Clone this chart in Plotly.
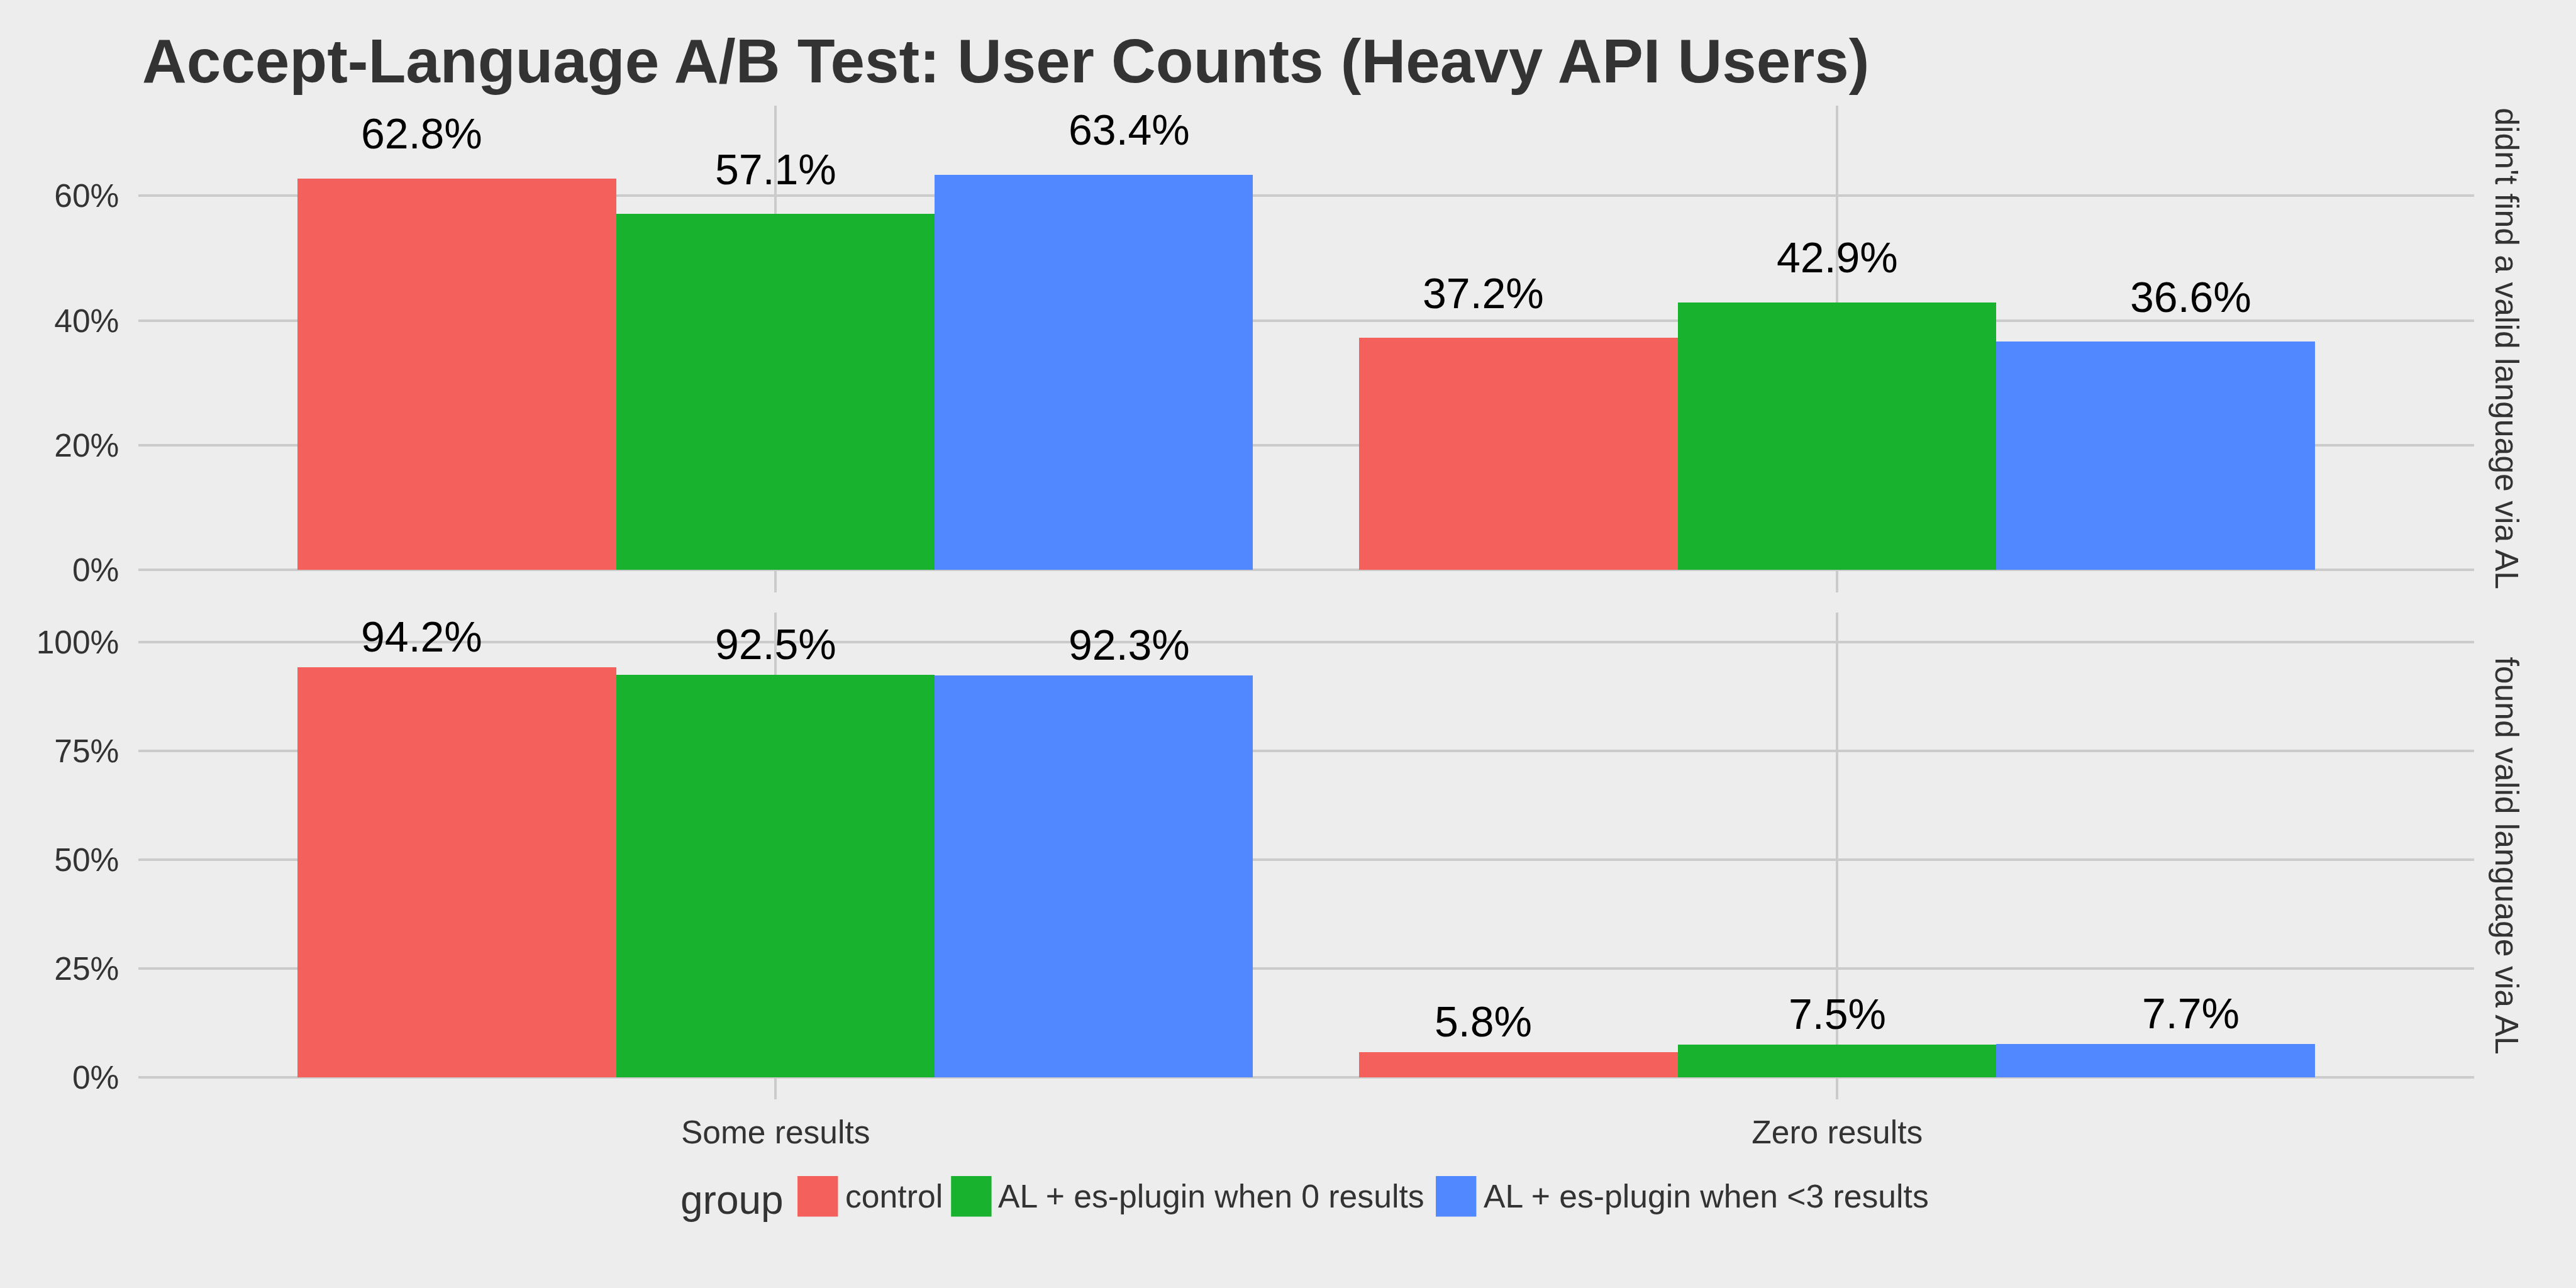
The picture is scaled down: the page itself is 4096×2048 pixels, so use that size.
import plotly.graph_objects as go

# ---------------- data ----------------
categories = ["Some results", "Zero results"]
groups = ["control", "AL + es-plugin when 0 results", "AL + es-plugin when <3 results"]
facets = ["didn't find a valid language via AL", "found valid language via AL"]
group_colors = ["#F4605C", "#19B22F", "#5288FF"]

# percent of users, per category (Some results, Zero results)
didnt_control = [62.8, 37.2]
didnt_al0 = [57.1, 42.9]
didnt_al3 = [63.4, 36.6]
found_control = [94.2, 5.8]
found_al0 = [92.5, 7.5]
found_al3 = [92.3, 7.7]

ticks_top = [0, 20, 40, 60]
ticks_bottom = [0, 25, 50, 75, 100]
label_offset = 7.5  # labels sit 7.5 points above the bar

facet_values = [
    [didnt_control, didnt_al0, didnt_al3],
    [found_control, found_al0, found_al3],
]
facet_ticks = [ticks_top, ticks_bottom]

# ---------------- geometry (pixels in a 4096x2048 canvas) ----------------
W, H = 4096, 2048
S = 0.975
BG = "#EDEDED"
GRID = "#CBCBCB"
TXT = "#333333"
FONT = "Liberation Sans"

px_left, px_right = 226 * S, 4035 * S
panels_px = [(172.3 * S, 965.7 * S), (998.7 * S, 1793 * S)]
xdom = [px_left / W, px_right / W]
ydoms = [[1 - b / H, 1 - t / H] for (t, b) in panels_px]

bar_dodge = 0.9
text_dodge = 1.0
n_groups = len(groups)
bar_w = bar_dodge / n_groups
cat_pos = list(range(1, len(categories) + 1))

fig = go.Figure()
annotations = []

for f, vals in enumerate(facet_values):
    xa = "x" if f == 0 else "x2"
    ya = "y" if f == 0 else "y2"
    for j, g in enumerate(groups):
        rel = j - (n_groups - 1) / 2
        xs = [c + rel * bar_w for c in cat_pos]
        xt = [c + rel * text_dodge / n_groups for c in cat_pos]
        fig.add_trace(go.Bar(
            x=xs, y=vals[j], width=bar_w, marker=dict(color=group_colors[j], line=dict(width=0)),
            name=g, showlegend=False, xaxis=xa, yaxis=ya, hoverinfo="skip",
        ))
        for xv, v in zip(xt, vals[j]):
            annotations.append(dict(
                text=f"{v:.1f}%", xref=xa, yref=ya, x=xv, y=v + label_offset,
                xanchor="center", yanchor="middle", yshift=-3, showarrow=False,
                font=dict(family=FONT, size=68, color="#000000"),
            ))

layout_axes = {}
for f in range(2):
    vals = facet_values[f]
    top = max(max(v) for v in vals) + label_offset
    yr = [-0.05 * top, 1.05 * top]
    xkey = "xaxis" if f == 0 else "xaxis2"
    ykey = "yaxis" if f == 0 else "yaxis2"
    layout_axes[xkey] = dict(
        domain=xdom, anchor="y" if f == 0 else "y2", range=[0.4, len(categories) + 0.6],
        tickvals=cat_pos, ticktext=categories, showticklabels=(f == 1),
        showgrid=True, gridcolor=GRID, gridwidth=4.2, zeroline=False, showline=False,
        ticks="", tickfont=dict(family=FONT, size=51.5, color=TXT), ticklabelstandoff=17,
    )
    layout_axes[ykey] = dict(
        domain=ydoms[f], anchor="x" if f == 0 else "x2", range=yr,
        tickvals=facet_ticks[f], ticktext=[f"{t}%" for t in facet_ticks[f]],
        showgrid=True, gridcolor=GRID, gridwidth=4.2, zeroline=False, showline=False,
        ticks="", tickfont=dict(family=FONT, size=51.5, color=TXT), ticklabelstandoff=30,
    )

# title
annotations.append(dict(
    text="Accept-Language A/B Test: User Counts (Heavy API Users)", xref="paper", yref="paper",
    x=224 / W, y=1 - 97 / H, xanchor="left", yanchor="middle", showarrow=False,
    font=dict(family=FONT, size=98, color=TXT, weight="bold"),
))
# facet strips
for f, lab in enumerate(facets):
    annotations.append(dict(
        text=lab, xref="paper", yref="paper", x=(4081.5 * S + 7) / W, y=sum(ydoms[f]) / 2,
        xanchor="center", yanchor="middle", textangle=90, showarrow=False,
        font=dict(family=FONT, size=51.7, color=TXT),
    ))

# legend (manual, ggplot style)
shapes = []
key_y0, key_y1 = 1918 * S, 1984 * S
key_mid = (key_y0 + key_y1) / 2
annotations.append(dict(
    text="group", xref="paper", yref="paper", x=1108 * S / W, y=1 - (key_mid + 6) / H,
    xanchor="left", yanchor="middle", showarrow=False,
    font=dict(family=FONT, size=64, color=TXT),
))
key_x = [1300.6, 1551, 2341.6]
label_x = [1376, 1625.6, 2417]
for j, g in enumerate(groups):
    x0 = key_x[j] * S
    shapes.append(dict(type="rect", xref="paper", yref="paper",
                       x0=x0 / W, x1=(x0 + 66 * S) / W, y0=1 - key_y1 / H, y1=1 - key_y0 / H,
                       fillcolor=group_colors[j], line=dict(width=0)))
    annotations.append(dict(
        text=g, xref="paper", yref="paper", x=label_x[j] * S / W, y=1 - key_mid / H,
        xanchor="left", yanchor="middle", showarrow=False,
        font=dict(family=FONT, size=51.7, color=TXT),
    ))

fig.update_layout(
    width=W, height=H, margin=dict(l=0, r=0, t=0, b=0),
    paper_bgcolor=BG, plot_bgcolor=BG, showlegend=False,
    annotations=annotations, shapes=shapes, bargap=0, **layout_axes,
)

fig.write_html("out.html")
